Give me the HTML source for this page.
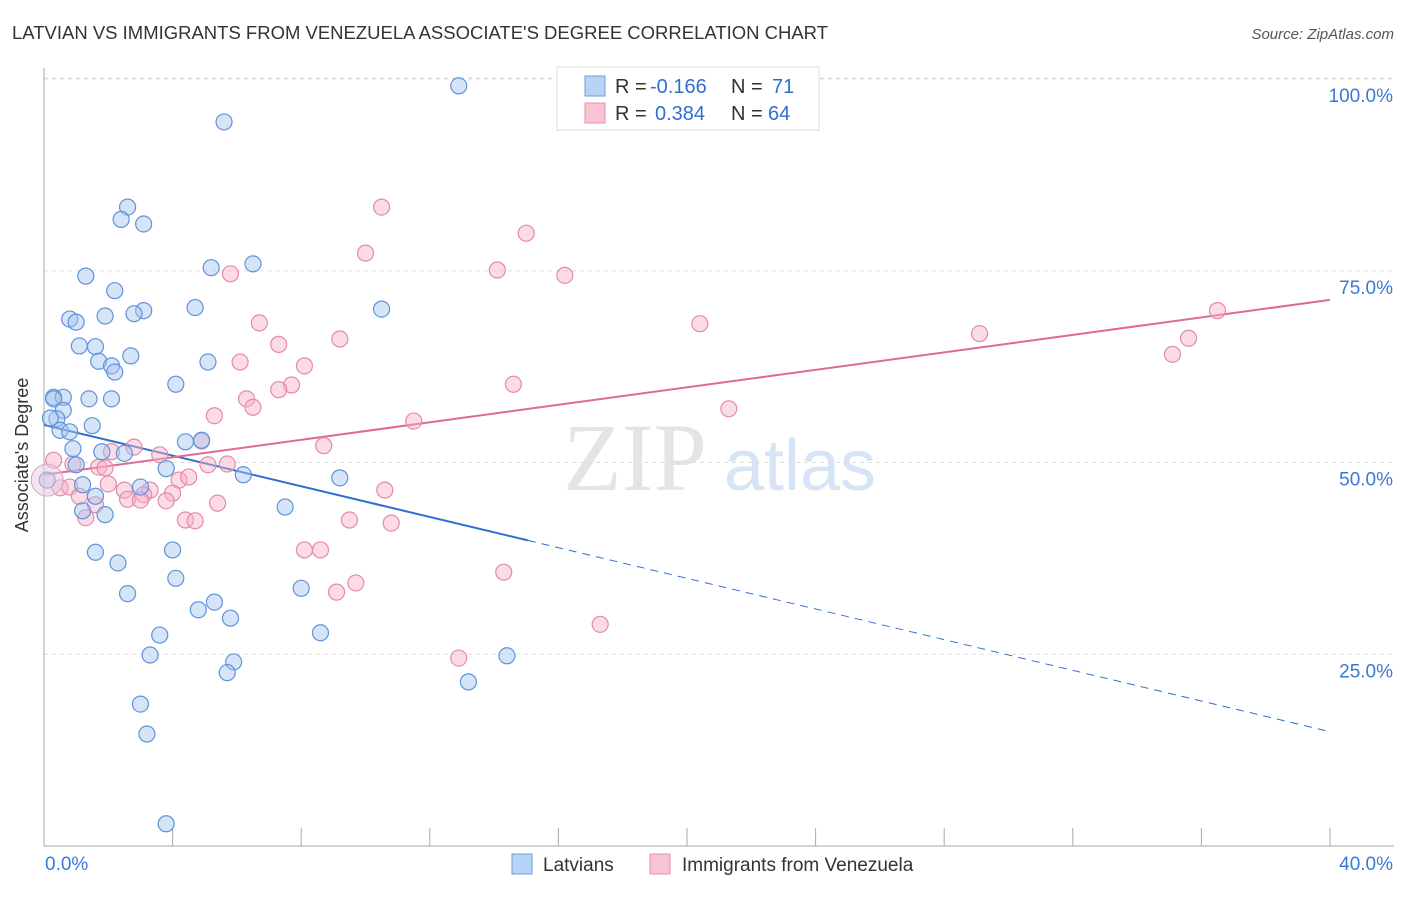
<!DOCTYPE html>
<html><head><meta charset="utf-8"><style>
body{margin:0;background:#fff;font-family:"Liberation Sans",sans-serif;}
</style></head><body>
<svg width="1406" height="892" xmlns="http://www.w3.org/2000/svg" id="chart" font-family="Liberation Sans, sans-serif">
<text x="12" y="39" font-size="18" fill="#333" textLength="816" lengthAdjust="spacingAndGlyphs">LATVIAN VS IMMIGRANTS FROM VENEZUELA ASSOCIATE'S DEGREE CORRELATION CHART</text>
<text x="1394" y="39" font-size="15" fill="#555" text-anchor="end" font-style="italic">Source: ZipAtlas.com</text>
<text x="635" y="490" font-size="96" fill="#e4e4e4" font-family="Liberation Serif, serif" text-anchor="middle">ZIP</text>
<text x="800" y="490" font-size="72" fill="#d6e4f5" text-anchor="middle">atlas</text>
<g id="grid"></g><g id="axes"></g><g id="lines"></g><g id="pts"></g>
<text x="28" y="455" font-size="18" fill="#333" text-anchor="middle" transform="rotate(-90 28 455)">Associate's Degree</text>
<g font-size="20">
<rect x="557" y="67" width="262" height="63" fill="#fff" stroke="#ddd"/>
<rect x="585" y="76" width="20" height="20" fill="#b8d3f5" stroke="#6d9fe0"/>
<rect x="585" y="103" width="20" height="20" fill="#f8c4d4" stroke="#e890ad"/>
<text x="615" y="93" fill="#333">R =</text><text x="650" y="93" fill="#2f6fd1">-0.166</text>
<text x="731" y="93" fill="#333">N =</text><text x="772" y="93" fill="#2f6fd1">71</text>
<text x="615" y="120" fill="#333">R =</text><text x="655" y="120" fill="#2f6fd1">0.384</text>
<text x="731" y="120" fill="#333">N =</text><text x="768" y="120" fill="#2f6fd1">64</text>
</g>
<g>
<rect x="512" y="854" width="20" height="20" fill="#b8d3f5" stroke="#6d9fe0"/>
<text x="543" y="871" font-size="19" fill="#333">Latvians</text>
<rect x="650" y="854" width="20" height="20" fill="#f8c4d4" stroke="#e890ad"/>
<text x="682" y="871" font-size="19" fill="#333">Immigrants from Venezuela</text>
</g>
</svg>
<script>
const xTicks=[0,4,8,12,16,20,24,28,32,36,40];
const yTicks=[25,50,75,100];
const yTickLabels=["25.0%","50.0%","75.0%","100.0%"];
const xLabels=["0.0%","40.0%"];
const blueX=[12.9,5.6,2.6,2.4,3.1,6.5,5.2,1.3,2.2,4.7,10.5,3.1,2.8,0.8,1.0,1.9,1.1,1.6,2.7,1.7,2.1,2.2,5.1,4.1,0.3,0.6,0.3,1.4,2.1,0.6,0.4,1.5,0.5,0.8,4.4,4.9,0.9,1.8,2.5,6.2,9.2,3.8,1.0,1.2,3.0,1.6,1.2,1.9,7.5,1.6,4.0,2.3,4.1,2.6,8.0,5.3,4.8,5.8,8.6,3.6,3.3,5.9,5.7,14.4,13.2,3.0,3.2,3.8,0.1,0.2];
const blueY=[99.1,94.4,83.3,81.7,81.1,75.9,75.4,74.3,72.4,70.2,70.0,69.8,69.4,68.7,68.3,69.1,65.2,65.1,63.9,63.2,62.6,61.8,63.1,60.2,58.5,58.5,58.3,58.3,58.3,56.8,55.7,54.8,54.2,54.0,52.7,52.9,51.8,51.4,51.2,48.4,48.0,49.2,49.7,47.1,46.8,45.6,43.7,43.2,44.2,38.3,38.6,36.9,34.9,32.9,33.6,31.8,30.8,29.7,27.8,27.5,24.9,24.0,22.6,24.8,21.4,18.5,14.6,2.9,47.7,55.8];
const pinkX=[10.5,15.0,10.0,14.1,16.2,5.8,6.7,20.4,29.1,36.5,35.6,35.1,7.3,9.2,6.1,8.1,14.6,7.7,7.3,6.3,6.5,21.3,5.3,11.5,2.8,4.9,8.7,3.6,2.1,1.7,1.9,0.9,5.1,5.7,0.3,0.5,0.8,2.0,4.2,4.5,2.5,3.3,3.1,4.0,1.1,2.6,3.0,3.8,5.4,1.6,1.3,4.4,4.7,9.5,10.8,10.6,8.1,8.6,9.7,9.1,14.3,17.3,12.9];
const pinkY=[83.3,79.9,77.3,75.1,74.4,74.6,68.2,68.1,66.8,69.8,66.2,64.1,65.4,66.1,63.1,62.6,60.2,60.1,59.5,58.3,57.2,57.0,56.1,55.4,52.0,52.8,52.2,51.0,51.4,49.4,49.3,49.8,49.7,49.8,50.3,46.7,46.8,47.2,47.7,48.1,46.4,46.4,45.8,46.0,45.6,45.2,45.1,45.0,44.7,44.5,42.8,42.5,42.4,42.5,42.1,46.4,38.6,38.6,34.3,33.1,35.7,28.9,24.5];
const blueFit=[54.9,14.9]; // y at x=0 and x=40
const pinkFit=[48.4,71.2];
const blueSolidEnd=15.05;
const X=v=>44+v*32.15, Y=v=>846-v*7.67;
const NS="http://www.w3.org/2000/svg";
function mk(p,t,a){const e=document.createElementNS(NS,t);for(const k in a)e.setAttribute(k,a[k]);document.getElementById(p).appendChild(e);return e;}
yTicks.forEach((t,i)=>{
 const g=mk('grid','line',{x1:44,x2:1394,y1:Y(t),y2:Y(t),stroke:'#ddd','stroke-dasharray':'4,4'});
 
 
 const l=mk('axes','text',{x:1393,y:Y(t)+23,'font-size':19,fill:'#3a78d8','text-anchor':'end'});l.textContent=yTickLabels[i];
 
 
});
mk('grid','line',{x1:44,x2:1394,y1:Y(100)-1,y2:Y(100)-1,stroke:'#ddd','stroke-dasharray':'4,4'});
const ax=mk('axes','line',{x1:44,x2:1394,y1:846,y2:846,stroke:'#aaa'});


const ay=mk('axes','line',{x1:44,x2:44,y1:68,y2:846,stroke:'#aaa'});


xTicks.forEach(t=>{const e=mk('axes','line',{x1:X(t),x2:X(t),y1:828,y2:846,stroke:'#aaa'});
 
 });
[[0,xLabels[0],'start',45],[40,xLabels[1],'end',1393]].forEach(a=>{const e=mk('axes','text',{x:a[3],y:870,'font-size':19,fill:'#3a78d8','text-anchor':a[2]});e.textContent=a[1];
 
 });
function pts(xs,ys,fill,stroke,name){xs.forEach((x,i)=>{const c=mk('pts','circle',{cx:X(x),cy:Y(ys[i]),r:8,fill:fill,'fill-opacity':0.45,stroke:stroke,'stroke-width':1.2});
 
 });}
pts(pinkX,pinkY,'#f6b0c6','#e58aa9','venezuela-point');
pts(blueX,blueY,'#a4c4ef','#5f93dc','latvian-point');
const big=mk('pts','circle',{cx:X(0.1),cy:Y(47.7),r:16,fill:'#e8c8dc','fill-opacity':0.5,stroke:'#d8a8c0'});


const bAt=x=>blueFit[0]+(blueFit[1]-blueFit[0])*x/40;
const b1=mk('lines','line',{x1:X(0),y1:Y(bAt(0)),x2:X(blueSolidEnd),y2:Y(bAt(blueSolidEnd)),stroke:'#2f6fd1','stroke-width':2});


const b2=mk('lines','line',{x1:X(blueSolidEnd),y1:Y(bAt(blueSolidEnd)),x2:X(40),y2:Y(bAt(40)),stroke:'#2f6fd1','stroke-width':1,'stroke-dasharray':'8,6'});


const p1=mk('lines','line',{x1:X(0),y1:Y(pinkFit[0]),x2:X(40),y2:Y(pinkFit[1]),stroke:'#e06a96','stroke-width':2});


</script>
</body></html>
